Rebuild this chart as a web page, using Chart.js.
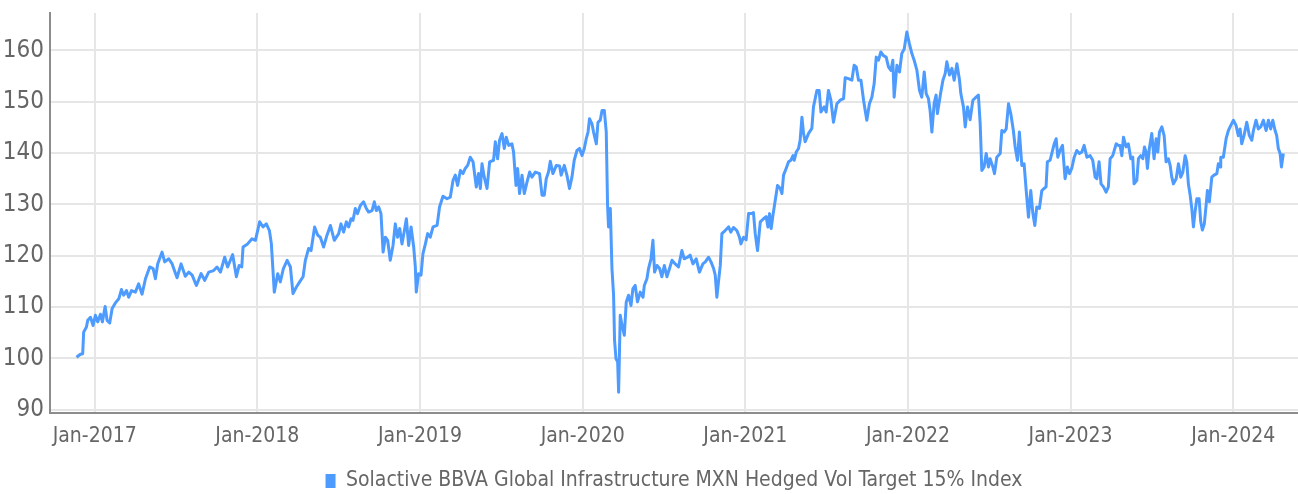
<!DOCTYPE html>
<html>
<head>
<meta charset="utf-8">
<title>Solactive BBVA Global Infrastructure MXN Hedged Vol Target 15% Index</title>
<script src="https://cdn.jsdelivr.net/npm/chart.js@4.4.1/dist/chart.umd.min.js"></script>
<style>
  html, body { margin: 0; padding: 0; background: #fff; overflow: hidden; }
  #wrap { width: 1298px; height: 494px; }
</style>
</head>
<body>
<div id="wrap"><canvas id="indexChart" width="1298" height="494"></canvas></div>
<script>
const seriesName = "Solactive BBVA Global Infrastructure MXN Hedged Vol Target 15% Index";

// observation dates as decimal years
const dates = [
  2016.888, 2016.912, 2016.926, 2016.932, 2016.949, 2016.957, 2016.974, 2016.990, 2017.004, 2017.018,
  2017.035, 2017.047, 2017.064, 2017.076, 2017.092, 2017.107, 2017.127, 2017.148, 2017.164, 2017.178,
  2017.195, 2017.209, 2017.226, 2017.250, 2017.270, 2017.291, 2017.312, 2017.338, 2017.359, 2017.373,
  2017.387, 2017.414, 2017.430, 2017.455, 2017.476, 2017.490, 2017.506, 2017.531, 2017.557, 2017.578,
  2017.599, 2017.625, 2017.654, 2017.676, 2017.701, 2017.731, 2017.752, 2017.773, 2017.799, 2017.817,
  2017.848, 2017.871, 2017.888, 2017.904, 2017.912, 2017.940, 2017.967, 2017.988, 2018.014, 2018.035,
  2018.055, 2018.074, 2018.086, 2018.104, 2018.125, 2018.141, 2018.160, 2018.183, 2018.203, 2018.219,
  2018.240, 2018.260, 2018.281, 2018.295, 2018.315, 2018.330, 2018.352, 2018.371, 2018.387, 2018.407,
  2018.428, 2018.449, 2018.473, 2018.500, 2018.514, 2018.530, 2018.547, 2018.561, 2018.576, 2018.588,
  2018.602, 2018.616, 2018.633, 2018.653, 2018.670, 2018.684, 2018.705, 2018.719, 2018.731, 2018.746,
  2018.760, 2018.773, 2018.787, 2018.801, 2018.817, 2018.834, 2018.848, 2018.862, 2018.875, 2018.889,
  2018.904, 2018.916, 2018.930, 2018.945, 2018.961, 2018.971, 2018.977, 2018.991, 2019.006, 2019.018,
  2019.033, 2019.047, 2019.063, 2019.080, 2019.105, 2019.120, 2019.141, 2019.166, 2019.186, 2019.203,
  2019.217, 2019.231, 2019.248, 2019.264, 2019.278, 2019.293, 2019.309, 2019.326, 2019.346, 2019.360,
  2019.371, 2019.381, 2019.395, 2019.412, 2019.428, 2019.452, 2019.463, 2019.477, 2019.489, 2019.504,
  2019.518, 2019.530, 2019.545, 2019.565, 2019.575, 2019.590, 2019.600, 2019.612, 2019.627, 2019.641,
  2019.658, 2019.674, 2019.688, 2019.709, 2019.735, 2019.750, 2019.764, 2019.776, 2019.790, 2019.801,
  2019.817, 2019.838, 2019.858, 2019.868, 2019.887, 2019.903, 2019.919, 2019.934, 2019.948, 2019.965,
  2019.981, 2019.996, 2020.010, 2020.022, 2020.033, 2020.042, 2020.057, 2020.067, 2020.084, 2020.094,
  2020.108, 2020.119, 2020.133, 2020.145, 2020.153, 2020.159, 2020.170, 2020.180, 2020.190, 2020.196,
  2020.205, 2020.215, 2020.221, 2020.231, 2020.242, 2020.256, 2020.268, 2020.282, 2020.297, 2020.309,
  2020.323, 2020.337, 2020.354, 2020.371, 2020.379, 2020.395, 2020.405, 2020.420, 2020.432, 2020.442,
  2020.457, 2020.473, 2020.487, 2020.502, 2020.518, 2020.534, 2020.549, 2020.569, 2020.589, 2020.610,
  2020.624, 2020.645, 2020.661, 2020.678, 2020.698, 2020.718, 2020.739, 2020.754, 2020.774, 2020.789,
  2020.805, 2020.815, 2020.825, 2020.835, 2020.846, 2020.856, 2020.876, 2020.897, 2020.911, 2020.927,
  2020.948, 2020.964, 2020.973, 2020.989, 2021.005, 2021.020, 2021.041, 2021.050, 2021.061, 2021.075,
  2021.092, 2021.112, 2021.128, 2021.139, 2021.149, 2021.159, 2021.170, 2021.184, 2021.198, 2021.215,
  2021.225, 2021.235, 2021.251, 2021.266, 2021.280, 2021.293, 2021.301, 2021.313, 2021.327, 2021.337,
  2021.348, 2021.358, 2021.368, 2021.388, 2021.409, 2021.419, 2021.440, 2021.454, 2021.465, 2021.485,
  2021.497, 2021.511, 2021.526, 2021.542, 2021.563, 2021.583, 2021.604, 2021.614, 2021.634, 2021.655,
  2021.669, 2021.682, 2021.696, 2021.711, 2021.727, 2021.737, 2021.747, 2021.763, 2021.778, 2021.792,
  2021.805, 2021.819, 2021.833, 2021.849, 2021.866, 2021.880, 2021.895, 2021.907, 2021.915, 2021.932,
  2021.948, 2021.962, 2021.977, 2021.993, 2022.009, 2022.024, 2022.038, 2022.055, 2022.071, 2022.085,
  2022.100, 2022.112, 2022.126, 2022.136, 2022.147, 2022.161, 2022.173, 2022.181, 2022.202, 2022.215,
  2022.229, 2022.239, 2022.255, 2022.270, 2022.284, 2022.301, 2022.317, 2022.325, 2022.341, 2022.352,
  2022.366, 2022.382, 2022.399, 2022.419, 2022.433, 2022.444, 2022.454, 2022.468, 2022.481, 2022.495,
  2022.505, 2022.522, 2022.532, 2022.546, 2022.567, 2022.577, 2022.591, 2022.604, 2022.618, 2022.632,
  2022.648, 2022.659, 2022.673, 2022.685, 2022.700, 2022.714, 2022.727, 2022.741, 2022.755, 2022.768,
  2022.780, 2022.792, 2022.808, 2022.823, 2022.837, 2022.849, 2022.857, 2022.874, 2022.884, 2022.899,
  2022.911, 2022.921, 2022.935, 2022.950, 2022.966, 2022.980, 2022.993, 2023.007, 2023.022, 2023.038,
  2023.054, 2023.069, 2023.083, 2023.100, 2023.120, 2023.136, 2023.151, 2023.161, 2023.175, 2023.187,
  2023.202, 2023.218, 2023.232, 2023.243, 2023.259, 2023.280, 2023.294, 2023.304, 2023.315, 2023.325,
  2023.341, 2023.355, 2023.370, 2023.382, 2023.390, 2023.407, 2023.417, 2023.431, 2023.444, 2023.454,
  2023.464, 2023.472, 2023.484, 2023.499, 2023.513, 2023.526, 2023.536, 2023.546, 2023.561, 2023.575,
  2023.587, 2023.601, 2023.612, 2023.622, 2023.632, 2023.649, 2023.663, 2023.677, 2023.690, 2023.704,
  2023.714, 2023.724, 2023.735, 2023.745, 2023.755, 2023.765, 2023.776, 2023.790, 2023.800, 2023.810,
  2023.822, 2023.833, 2023.841, 2023.853, 2023.868, 2023.882, 2023.899, 2023.908, 2023.919, 2023.923,
  2023.939, 2023.956, 2023.970, 2023.985, 2024.001, 2024.017, 2024.031, 2024.042, 2024.052, 2024.066,
  2024.083, 2024.099, 2024.114, 2024.124, 2024.140, 2024.154, 2024.169, 2024.185, 2024.202, 2024.216,
  2024.230, 2024.243, 2024.257, 2024.267, 2024.277, 2024.288, 2024.296, 2024.308
];

// index level (base 100)
const levels = [
  100.2, 100.8, 100.9, 105.1, 106.1, 107.4, 108.0, 106.4, 108.4, 107.1,
  108.6, 107.1, 110.1, 107.4, 106.9, 109.7, 110.8, 111.6, 113.4, 112.3,
  113.2, 111.9, 113.2, 112.9, 114.5, 112.5, 115.5, 117.8, 117.5, 115.5,
  118.4, 120.7, 118.8, 119.4, 118.4, 117.1, 115.7, 118.4, 116.0, 116.8,
  116.2, 114.2, 116.5, 115.2, 116.8, 117.1, 117.8, 116.8, 119.7, 117.8,
  120.2, 115.9, 118.1, 117.8, 121.7, 122.3, 123.3, 123.0, 126.6, 125.6,
  126.2, 124.9, 122.3, 112.9, 116.5, 114.9, 117.5, 119.1, 117.8, 112.6,
  113.9, 114.9, 115.9, 119.1, 121.4, 121.0, 125.6, 124.0, 123.6, 121.7,
  124.0, 125.9, 123.0, 124.3, 126.2, 124.6, 126.6, 125.6, 127.2, 126.9,
  129.2, 128.2, 129.8, 130.5, 129.2, 128.5, 128.8, 130.5, 128.8, 129.5,
  128.2, 120.7, 123.6, 123.0, 119.1, 122.0, 126.2, 123.6, 125.3, 122.3,
  124.9, 127.2, 122.0, 125.6, 121.7, 117.8, 112.9, 116.5, 116.2, 120.4,
  122.3, 124.3, 123.6, 125.6, 125.9, 129.5, 131.6, 131.1, 131.4, 134.7,
  135.7, 133.7, 136.6, 136.0, 137.0, 137.6, 139.2, 138.3, 133.4, 136.0,
  133.1, 137.9, 135.3, 133.1, 138.3, 138.6, 142.2, 138.9, 142.5, 143.8,
  140.9, 143.1, 141.5, 141.8, 140.2, 133.7, 137.0, 132.1, 135.7, 132.1,
  134.4, 136.3, 135.3, 136.3, 136.0, 131.8, 131.8, 135.0, 136.3, 138.4,
  136.0, 137.6, 137.5, 135.7, 137.6, 135.7, 133.1, 135.3, 138.6, 140.5,
  140.9, 139.5, 140.9, 142.8, 144.1, 146.7, 145.7, 144.1, 141.8, 146.0,
  146.4, 148.3, 148.3, 144.1, 129.8, 125.6, 129.2, 117.5, 112.3, 103.5,
  99.9, 99.3, 93.4, 108.4, 106.4, 104.5, 111.0, 112.3, 110.3, 113.6,
  114.2, 111.0, 112.9, 111.9, 114.2, 115.5, 117.5, 119.4, 123.0, 116.8,
  118.1, 117.5, 115.9, 118.1, 115.9, 117.5, 119.1, 118.4, 117.8, 121.0,
  119.4, 119.7, 120.1, 118.4, 119.4, 116.8, 118.4, 118.8, 119.7, 118.8,
  117.5, 116.2, 111.9, 114.9, 118.1, 124.3, 124.9, 125.6, 124.6, 125.5,
  124.9, 123.6, 122.3, 123.6, 123.1, 128.2, 128.2, 128.4, 124.3, 121.0,
  126.6, 127.2, 127.6, 125.6, 128.2, 125.3, 127.9, 130.8, 133.7, 133.1,
  132.1, 135.7, 137.0, 138.3, 138.6, 139.5, 138.6, 140.2, 140.9, 142.5,
  147.0, 143.8, 142.2, 143.8, 144.8, 149.0, 152.2, 152.2, 148.0, 149.0,
  148.0, 152.2, 150.3, 146.0, 149.6, 150.3, 150.6, 154.7, 154.5, 154.2,
  157.1, 156.8, 154.2, 154.2, 150.3, 148.3, 146.4, 149.6, 150.9, 153.5,
  158.7, 158.1, 159.7, 159.0, 158.7, 156.8, 156.1, 158.1, 150.9, 157.1,
  155.8, 159.4, 160.3, 163.6, 161.3, 159.4, 158.1, 156.1, 152.2, 150.9,
  155.8, 151.6, 150.6, 148.3, 144.1, 149.7, 151.3, 147.7, 151.9, 154.2,
  155.5, 157.8, 155.2, 156.5, 154.2, 157.4, 154.2, 151.6, 149.0, 145.1,
  149.0, 146.5, 150.3, 150.9, 151.3, 145.7, 136.6, 137.3, 139.9, 137.3,
  138.9, 137.3, 136.0, 139.2, 139.9, 144.4, 144.1, 144.7, 149.6, 147.7,
  144.4, 141.2, 138.6, 144.1, 137.6, 137.9, 132.7, 127.5, 132.7, 128.2,
  125.9, 129.5, 129.2, 132.7, 133.1, 133.4, 138.3, 138.6, 139.9, 141.8,
  142.8, 139.2, 140.5, 141.5, 135.0, 137.3, 136.0, 137.0, 139.2, 140.5,
  139.9, 140.2, 141.5, 139.2, 139.5, 138.6, 135.3, 135.0, 138.3, 134.0,
  133.4, 132.4, 133.4, 138.9, 139.5, 141.8, 141.5, 141.5, 139.5, 143.1,
  141.2, 141.8, 138.9, 139.2, 134.0, 134.7, 138.9, 139.5, 138.9, 141.2,
  140.2, 137.0, 140.9, 143.8, 138.9, 142.8, 140.2, 144.1, 145.1, 143.4,
  138.3, 138.9, 137.6, 135.3, 134.0, 135.0, 137.9, 135.3, 136.3, 139.5,
  138.3, 134.0, 131.8, 129.2, 125.6, 128.5, 131.1, 131.1, 126.6, 125.0,
  126.2, 129.8, 132.7, 130.5, 135.3, 135.7, 136.0, 137.9, 137.3, 139.2,
  139.2, 142.8, 144.4, 145.4, 146.4, 145.4, 143.4, 144.7, 141.8, 143.4,
  146.0, 143.4, 142.5, 144.4, 146.4, 144.7, 145.1, 146.4, 144.4, 146.4,
  144.7, 146.4, 144.4, 143.4, 140.9, 139.9, 137.3, 139.9
];

const tickYears = [2017, 2018, 2019, 2020, 2021, 2022, 2023, 2024];
const levelTicks = [90, 100, 110, 120, 130, 140, 150, 160];

const FONT = "'Liberation Sans Narrow', 'DejaVu Sans Condensed', 'Roboto Condensed', sans-serif";
const TEXT = '#666666';
const GRID = '#e6e6e6';
const AXIS = '#8c8c8c';
const BLUE = '#4d9bff';

const ctx = document.getElementById('indexChart').getContext('2d');
new Chart(ctx, {
  type: 'line',
  data: {
    datasets: [{
      label: seriesName,
      data: dates.map((d, i) => ({ x: d, y: levels[i] })),
      borderColor: BLUE,
      backgroundColor: BLUE,
      borderWidth: 3,
      pointRadius: 0,
      tension: 0,
      fill: false,
      borderJoinStyle: 'round'
    }]
  },
  options: {
    responsive: false,
    animation: false,
    // legend box carries 10px of fixed space below its row; let it hang off the bottom edge
    layout: { padding: { top: 13, left: 0, right: 0, bottom: -7.5 } },
    plugins: {
      legend: {
        position: 'bottom',
        fullSize: false,
        labels: {
          color: TEXT,
          font: { family: FONT, size: 21 },
          boxWidth: 10,
          boxHeight: 14,
          padding: 2,
          generateLabels: chart =>
            Chart.defaults.plugins.legend.labels.generateLabels(chart)
              .map(item => Object.assign(item, { lineWidth: 0 }))
        }
      },
      tooltip: { enabled: false }
    },
    scales: {
      x: {
        type: 'linear',
        min: 2016.725,
        max: 2024.398,
        afterBuildTicks: scale => { scale.ticks = tickYears.map(v => ({ value: v })); },
        afterFit: scale => { scale.height = 55.8; scale.paddingLeft = 0; scale.paddingRight = 0; },
        ticks: {
          color: TEXT,
          font: { family: FONT, size: 21 },
          padding: 11.7,
          maxRotation: 0,
          autoSkip: false,
          callback: v => 'Jan-' + v
        },
        grid: { color: GRID, lineWidth: 2, drawTicks: false },
        border: { color: AXIS, width: 2 }
      },
      y: {
        min: 89.4,
        max: 167.3,
        afterBuildTicks: scale => { scale.ticks = levelTicks.map(v => ({ value: v })); },
        afterFit: scale => { scale.width = 50; scale.paddingTop = 0; scale.paddingBottom = 0; },
        ticks: {
          color: TEXT,
          font: { family: FONT, size: 24 },
          padding: 6
        },
        grid: { color: GRID, lineWidth: 2, drawTicks: false },
        border: { color: AXIS, width: 2 }
      }
    }
  }
});
</script>
</body>
</html>
